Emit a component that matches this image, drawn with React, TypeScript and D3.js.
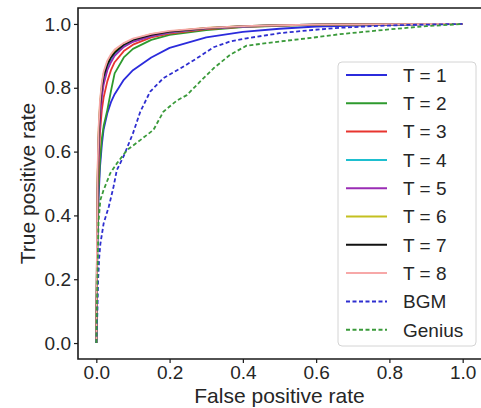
import { useEffect, useRef } from 'react';
import * as d3 from 'd3';

const xTicks = [0, 0.2, 0.4, 0.6, 0.8, 1.0];
const yTicks = [0, 0.2, 0.4, 0.6, 0.8, 1.0];

// shared FPR grid for the T = 1..8 curves
const fprT = [0, 0.003, 0.006, 0.01, 0.015, 0.02, 0.03, 0.04, 0.05, 0.075, 0.1, 0.15, 0.2, 0.3, 0.4, 0.5, 0.6, 0.8, 1.0];
const tprT1 = [0, 0.30, 0.45, 0.55, 0.62, 0.67, 0.72, 0.755, 0.78, 0.825, 0.855, 0.895, 0.925, 0.958, 0.975, 0.985, 0.992, 0.997, 1.0];
const tprT2 = [0, 0.33, 0.48, 0.57, 0.64, 0.68, 0.73, 0.79, 0.845, 0.895, 0.922, 0.95, 0.966, 0.981, 0.99, 0.994, 0.997, 0.999, 1.0];
const tprT3 = [0, 0.40, 0.55, 0.66, 0.73, 0.77, 0.82, 0.855, 0.88, 0.915, 0.935, 0.958, 0.97, 0.984, 0.991, 0.995, 0.998, 0.999, 1.0];
const tprT4 = [0, 0.45, 0.62, 0.72, 0.78, 0.82, 0.86, 0.885, 0.905, 0.93, 0.945, 0.962, 0.973, 0.986, 0.992, 0.996, 0.998, 0.999, 1.0];
const tprT5 = [0, 0.42, 0.60, 0.70, 0.77, 0.81, 0.855, 0.88, 0.90, 0.928, 0.944, 0.962, 0.974, 0.986, 0.992, 0.996, 0.998, 0.999, 1.0];
const tprT6 = [0, 0.50, 0.66, 0.75, 0.81, 0.845, 0.88, 0.90, 0.915, 0.938, 0.952, 0.968, 0.977, 0.988, 0.993, 0.996, 0.998, 0.999, 1.0];
const tprT7 = [0, 0.48, 0.64, 0.74, 0.80, 0.835, 0.872, 0.895, 0.91, 0.935, 0.95, 0.966, 0.976, 0.987, 0.993, 0.996, 0.998, 0.999, 1.0];
const tprT8 = [0, 0.52, 0.67, 0.76, 0.815, 0.85, 0.885, 0.905, 0.92, 0.94, 0.954, 0.969, 0.978, 0.988, 0.993, 0.996, 0.998, 0.999, 1.0];

const fprBGM = [0, 0.003, 0.005, 0.008, 0.011, 0.02, 0.034, 0.047, 0.056, 0.074, 0.1, 0.12, 0.147, 0.183, 0.23, 0.274, 0.32, 0.365, 0.41, 0.5, 0.59, 0.665, 0.75, 0.85, 1.0];
const tprBGM = [0, 0.10, 0.20, 0.27, 0.31, 0.375, 0.427, 0.49, 0.542, 0.584, 0.657, 0.725, 0.788, 0.83, 0.861, 0.892, 0.927, 0.945, 0.955, 0.971, 0.981, 0.988, 0.993, 0.997, 1.0];

const fprGenius = [0, 0.003, 0.006, 0.011, 0.02, 0.038, 0.056, 0.084, 0.12, 0.156, 0.183, 0.22, 0.247, 0.283, 0.32, 0.365, 0.41, 0.5, 0.59, 0.665, 0.8, 0.9, 1.0];
const tprGenius = [0, 0.20, 0.38, 0.448, 0.48, 0.532, 0.563, 0.605, 0.636, 0.668, 0.725, 0.76, 0.777, 0.819, 0.861, 0.903, 0.932, 0.945, 0.957, 0.968, 0.983, 0.993, 1.0];

const labels = ['T = 1', 'T = 2', 'T = 3', 'T = 4', 'T = 5', 'T = 6', 'T = 7', 'T = 8', 'BGM', 'Genius'];
const colors = ['#2b2bdc', '#2e9a2e', '#e8352f', '#1ebfcf', '#9a2cb5', '#c4c020', '#111111', '#f7a8a8', '#2e2ed0', '#3a9a3a'];
const dashed = [false, false, false, false, false, false, false, false, true, true];
const fprs = [fprT, fprT, fprT, fprT, fprT, fprT, fprT, fprT, fprBGM, fprGenius];
const tprs = [tprT1, tprT2, tprT3, tprT4, tprT5, tprT6, tprT7, tprT8, tprBGM, tprGenius];

const FONT = '"Liberation Sans", Arial, sans-serif';

export default function App() {
  const ref = useRef<SVGSVGElement>(null);
  useEffect(() => {
    if (!ref.current) return;
    const svg = d3.select(ref.current);
    svg.selectAll('*').remove();
    const left = 78, right = 481, top = 8, bottom = 359;
    const x = d3.scaleLinear().domain([-0.05, 1.05]).range([left, right]);
    const y = d3.scaleLinear().domain([-0.05, 1.05]).range([bottom, top]);

    svg.append('defs').append('clipPath').attr('id', 'plotclip')
      .append('rect').attr('x', left).attr('y', top).attr('width', right - left).attr('height', bottom - top);

    const line = d3.line<[number, number]>().x(d => x(d[0])).y(d => y(d[1]));
    const g = svg.append('g').attr('clip-path', 'url(#plotclip)');
    labels.forEach((_, i) => {
      const pts = fprs[i].map((f, j) => [f, tprs[i][j]] as [number, number]);
      g.append('path').datum(pts).attr('d', line)
        .attr('fill', 'none').attr('stroke', colors[i]).attr('stroke-width', 1.8)
        .attr('stroke-dasharray', dashed[i] ? '4,2.5' : null)
        .attr('stroke-linejoin', 'round');
    });

    // spines
    svg.append('path')
      .attr('d', `M${right + 2},${top}H${left}V${bottom}H${right + 2}`)
      .attr('fill', 'none').attr('stroke', '#1a1a1a').attr('stroke-width', 1.6);

    const xa = svg.append('g').attr('transform', `translate(0,${bottom})`)
      .call(d3.axisBottom(x).tickValues(xTicks).tickFormat(d3.format('.1f')).tickSize(4).tickPadding(3));
    const ya = svg.append('g').attr('transform', `translate(${left},0)`)
      .call(d3.axisLeft(y).tickValues(yTicks).tickFormat(d3.format('.1f')).tickSize(4).tickPadding(3));
    [xa, ya].forEach(a => {
      a.select('.domain').remove();
      a.selectAll('line').attr('stroke', '#1a1a1a').attr('stroke-width', 1.2);
      a.selectAll('text').style('font-size', '19px').style('font-family', FONT).attr('fill', '#262626');
    });

    svg.append('text').attr('x', (left + right) / 2).attr('y', 403).attr('text-anchor', 'middle')
      .style('font-size', '21px').style('font-family', FONT).attr('fill', '#262626').text('False positive rate');
    svg.append('text').attr('transform', `translate(35,${(top + bottom) / 2}) rotate(-90)`).attr('text-anchor', 'middle')
      .style('font-size', '21px').style('font-family', FONT).attr('fill', '#262626').text('True positive rate');

    // legend
    const lg = svg.append('g');
    lg.append('rect').attr('x', 338).attr('y', 62).attr('width', 138).attr('height', 284).attr('rx', 4)
      .attr('fill', 'white').attr('fill-opacity', 0.85).attr('stroke', '#d4d4d4').attr('stroke-width', 1);
    labels.forEach((lab, i) => {
      const ly = 75 + i * 28.3;
      lg.append('line').attr('x1', 346).attr('x2', 387).attr('y1', ly).attr('y2', ly)
        .attr('stroke', colors[i]).attr('stroke-width', 2)
        .attr('stroke-dasharray', dashed[i] ? '4,2.5' : null);
      lg.append('text').attr('x', 403).attr('y', ly).attr('dy', '0.36em')
        .style('font-size', '19px').style('font-family', FONT).attr('fill', '#262626').text(lab);
    });
  }, []);
  return (
    <svg ref={ref} width={481} height={408}
      style={{ position: 'absolute', left: 0, top: 0, background: 'white' }} />
  );
}
